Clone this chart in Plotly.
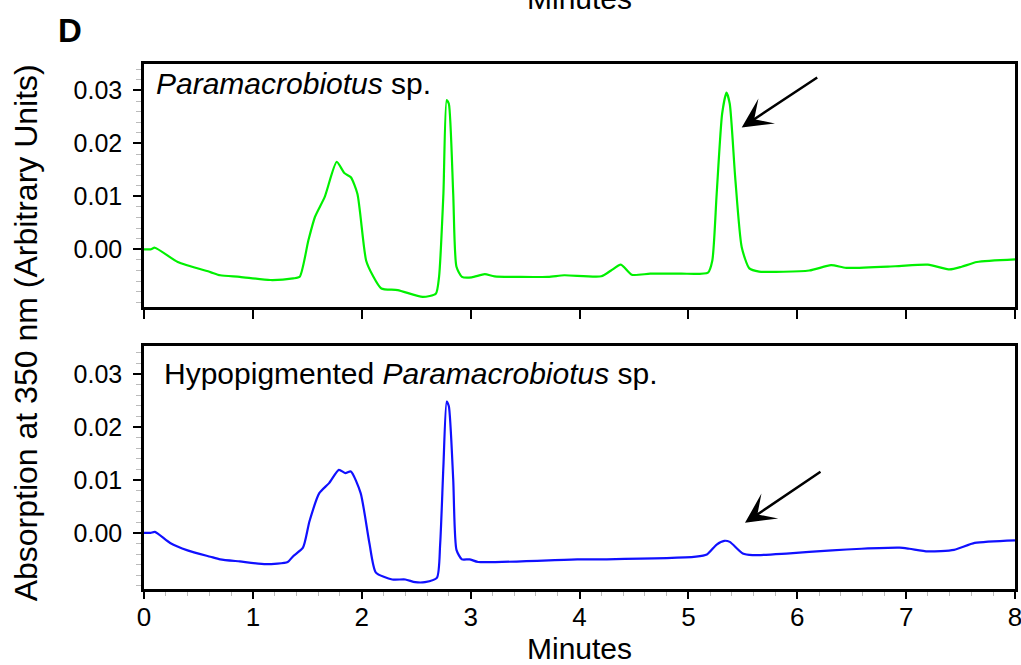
import plotly.graph_objects as go

# ---- data ----
top_x = [0, 0.06, 0.10, 0.31, 0.61, 0.70, 0.88, 1.16, 1.37, 1.43,
         1.51, 1.57, 1.66, 1.77, 1.84, 1.90, 1.96, 2.04, 2.10, 2.18,
         2.33, 2.56, 2.68, 2.71, 2.75, 2.78, 2.80, 2.84, 2.87, 2.92,
         3.01, 3.13, 3.22, 3.71, 3.86, 4.20, 4.29, 4.38, 4.48, 4.65,
         4.93, 5.18, 5.22, 5.26, 5.31, 5.35, 5.38, 5.43, 5.49, 5.56,
         5.65, 6.11, 6.31, 6.45, 6.90, 7.20, 7.40, 7.51, 7.65, 8.00]
top_y = [0, 0, 0.0003, -0.0024, -0.0043, -0.0049, -0.0052, -0.0058, -0.0055, -0.0052,
         0.0017, 0.0061, 0.0099, 0.0165, 0.0144, 0.0136, 0.0105, -0.0021, -0.0049, -0.0074,
         -0.0077, -0.0090, -0.0084, -0.0052, 0.0105, 0.0282, 0.0275, 0.0105, -0.0033, -0.0052,
         -0.0053, -0.0047, -0.0051, -0.0052, -0.0049, -0.0051, -0.0040, -0.0029, -0.0048, -0.0046,
         -0.0046, -0.0044, -0.0021, 0.0105, 0.0256, 0.0296, 0.0275, 0.0136, 0.0004, -0.0036,
         -0.0042, -0.0040, -0.0030, -0.0035, -0.0032, -0.0029, -0.0038, -0.0033, -0.0024, -0.0019]

bot_x = [0, 0.06, 0.10, 0.24, 0.40, 0.61, 0.70, 0.88, 1.12, 1.32,
         1.37, 1.46, 1.52, 1.61, 1.70, 1.79, 1.85, 1.90, 1.99, 2.07,
         2.13, 2.28, 2.40, 2.49, 2.58, 2.69, 2.72, 2.75, 2.78, 2.80,
         2.84, 2.87, 2.92, 2.99, 3.07, 3.98, 4.25, 5.07, 5.17, 5.26,
         5.33, 5.38, 5.50, 5.59, 5.90, 6.32, 6.59, 6.94, 7.03, 7.20,
         7.44, 7.63, 8.00]
bot_y = [0, 0, 0.0002, -0.0019, -0.0033, -0.0045, -0.0050, -0.0054, -0.0059, -0.0055,
         -0.0044, -0.0028, 0.0022, 0.0075, 0.0094, 0.0119, 0.0113, 0.0116, 0.0075, -0.0019,
         -0.0075, -0.0088, -0.0088, -0.0093, -0.0093, -0.0085, -0.0022, 0.0126, 0.0248, 0.0239,
         0.0101, -0.0032, -0.0050, -0.0050, -0.0055, -0.0050, -0.0050, -0.0045, -0.0041, -0.0022,
         -0.0015, -0.0017, -0.0039, -0.0042, -0.0039, -0.0033, -0.0030, -0.0028, -0.0030, -0.0035,
         -0.0032, -0.0019, -0.0014]

x_ticks = [0, 1, 2, 3, 4, 5, 6, 7, 8]
y_ticks = [0.0, 0.01, 0.02, 0.03]
y_tick_text = ["0.00", "0.01", "0.02", "0.03"]

top_label = "<i>Paramacrobiotus</i> sp."
bot_label = "Hypopigmented <i>Paramacrobiotus</i> sp."
x_title = "Minutes"
y_title = "Absorption at 350 nm (Arbitrary Units)"
panel_letter = "<b>D</b>"

# arrow heads (data coords)
top_arrow = (5.49, 0.0230)
bot_arrow = (5.52, 0.0019)

FONT = "Arial, Liberation Sans, Helvetica, sans-serif"

fig = go.Figure()
fig.add_trace(go.Scatter(x=top_x, y=top_y, mode="lines", xaxis="x", yaxis="y",
                         line=dict(color="#00f000", width=2.2, shape="spline", smoothing=0.6),
                         showlegend=False, hoverinfo="skip"))
fig.add_trace(go.Scatter(x=bot_x, y=bot_y, mode="lines", xaxis="x2", yaxis="y2",
                         line=dict(color="#1010ff", width=2.2, shape="spline", smoothing=0.6),
                         showlegend=False, hoverinfo="skip"))

axis_common = dict(showline=True, linecolor="black", linewidth=2.5, mirror=True,
                   showgrid=False, zeroline=False, ticks="outside", tickcolor="black",
                   tickwidth=2, ticklen=8)

yaxis_common = dict(axis_common, tickvals=y_ticks, ticktext=y_tick_text,
                    tickfont=dict(family=FONT, size=25, color="black"),
                    ticklabelstandoff=6,
                    minor=dict(dtick=0.002, tick0=0, ticks="outside", ticklen=5,
                               tickcolor="#bbbbbb", tickwidth=1))

fig.update_layout(
    width=1021, height=665,
    margin=dict(l=144, r=6, t=64, b=76, autoexpand=False),
    paper_bgcolor="white", plot_bgcolor="white",
    xaxis=dict(axis_common, domain=[0, 1], range=[0, 8], tickvals=x_ticks,
               showticklabels=False, anchor="y", ticklen=9),
    yaxis=dict(yaxis_common, domain=[0.5371, 1.0], range=[-0.0109, 0.0350], anchor="x"),
    xaxis2=dict(axis_common, domain=[0, 1], range=[0, 8], tickvals=x_ticks,
                tickfont=dict(family=FONT, size=26, color="black"), anchor="y2",
                ticklen=7, ticklabelstandoff=-4, ticklabeloverflow="allow",
                minor=dict(dtick=0.2, ticks="outside", ticklen=4,
                           tickcolor="#bbbbbb", tickwidth=1)),
    yaxis2=dict(yaxis_common, domain=[0.0, 0.4629], range=[-0.0106, 0.0353], anchor="x2"),
)

annos = [
    dict(text=top_label, xref="x domain", yref="y domain", x=0.012, y=0.918,
         xanchor="left", yanchor="middle", showarrow=False,
         font=dict(family=FONT, size=30, color="black")),
    dict(text=bot_label, xref="x2 domain", yref="y2 domain", x=0.021, y=0.885,
         xanchor="left", yanchor="middle", showarrow=False,
         font=dict(family=FONT, size=30, color="black")),
    dict(text=x_title, xref="paper", yref="paper", x=0.5, y=-0.114,
         xanchor="center", yanchor="middle", showarrow=False,
         font=dict(family=FONT, size=30, color="black")),
    dict(text=x_title, xref="paper", yref="paper", x=0.5, y=1.1245,
         xanchor="center", yanchor="middle", showarrow=False,
         font=dict(family=FONT, size=30, color="black")),
    dict(text=y_title, xref="paper", yref="paper", x=-0.136, y=0.488,
         xanchor="center", yanchor="middle", showarrow=False, textangle=-90,
         font=dict(family=FONT, size=32, color="black")),
    dict(text=panel_letter, xref="paper", yref="paper", x=-0.085, y=1.064,
         xanchor="center", yanchor="middle", showarrow=False,
         font=dict(family=FONT, size=33, color="black")),
    dict(text="", x=top_arrow[0], y=top_arrow[1], xref="x", yref="y",
         showarrow=True, ax=77, ay=-51, arrowhead=3, arrowsize=2.0, arrowwidth=2.5,
         arrowcolor="black", standoff=0),
    dict(text="", x=bot_arrow[0], y=bot_arrow[1], xref="x2", yref="y2",
         showarrow=True, ax=77, ay=-52, arrowhead=3, arrowsize=2.0, arrowwidth=2.5,
         arrowcolor="black", standoff=0),
]
fig.update_layout(annotations=annos)

fig.write_html("out.html", config={"displayModeBar": False},
               post_script="document.body.style.margin='0';document.body.style.overflow='hidden';")
